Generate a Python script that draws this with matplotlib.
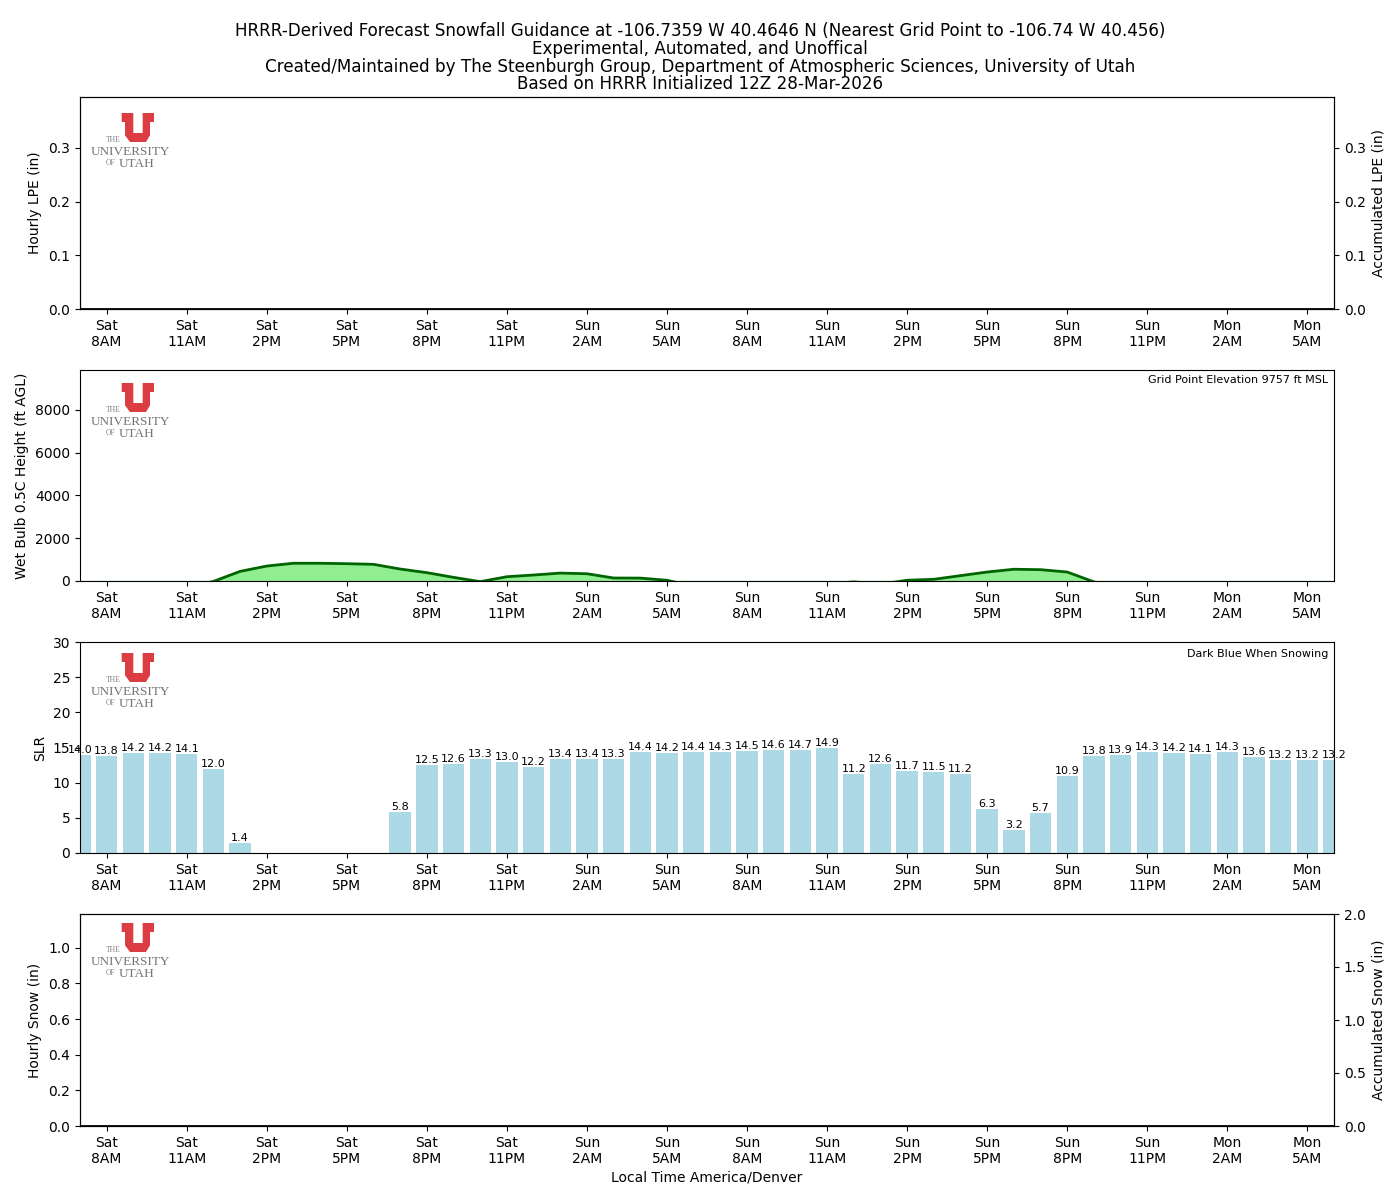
import matplotlib
matplotlib.use('Agg')
import matplotlib.pyplot as plt
from matplotlib.patches import Polygon
import numpy as np

# hours since Sat 8AM local, first value sits on the left edge of the axes
hours = np.arange(-1, 47)

tick_hours = np.arange(0, 46, 3)
tick_labels = ['Sat\n8AM', 'Sat\n11AM', 'Sat\n2PM', 'Sat\n5PM', 'Sat\n8PM', 'Sat\n11PM',
               'Sun\n2AM', 'Sun\n5AM', 'Sun\n8AM', 'Sun\n11AM', 'Sun\n2PM', 'Sun\n5PM',
               'Sun\n8PM', 'Sun\n11PM', 'Mon\n2AM', 'Mon\n5AM']

hourly_lpe = [0.0] * 48
accum_lpe = [0.0] * 48
hourly_snow = [0.0] * 48
accum_snow = [0.0] * 48

# values below zero run off the bottom of the panel
wetbulb = [-300, -300, -300, -300, -300, -20, 450, 700, 830, 830, 810, 780, 560, 390, 170, -30,
           200, 280, 370, 340, 140, 135, 35, -250, -300, -300, -300, -300, -150, -40, -150, 35, 80,
           250, 420, 550, 530, 420, -40, -300, -300, -300, -300, -300, -300, -300, -300, -300]

slr = [14.0, 13.8, 14.2, 14.2, 14.1, 12.0, 1.4, 0, 0, 0, 0, 0, 5.8, 12.5, 12.6, 13.3, 13.0, 12.2,
       13.4, 13.4, 13.3, 14.4, 14.2, 14.4, 14.3, 14.5, 14.6, 14.7, 14.9, 11.2, 12.6, 11.7, 11.5,
       11.2, 6.3, 3.2, 5.7, 10.9, 13.8, 13.9, 14.3, 14.2, 14.1, 14.3, 13.6, 13.2, 13.2, 13.2]

fig = plt.figure(figsize=(14, 12), dpi=100)
fig.suptitle('HRRR-Derived Forecast Snowfall Guidance at -106.7359 W 40.4646 N '
             '(Nearest Grid Point to -106.74 W 40.456)\n'
             'Experimental, Automated, and Unoffical\n'
             'Created/Maintained by The Steenburgh Group, Department of Atmospheric Sciences, University of Utah\n'
             'Based on HRRR Initialized 12Z 28-Mar-2026',
             fontsize=12.03, x=0.5, y=0.9813, va='top', linespacing=0.974)

W, H = 1400.0, 1200.0
left, right = 80, 1334
panels = [(97, 309), (370, 581), (642, 853), (914, 1126)]


def make_axes(top, bottom):
    ax = fig.add_axes([left / W, 1 - bottom / H, (right - left) / W, (bottom - top) / H])
    ax.set_xlim(-1, 46)
    ax.set_xticks(tick_hours)
    ax.set_xticklabels(tick_labels)
    return ax


def add_logo(i):
    # logo drawn by hand, steps down 270 px per panel
    top = 101 + 270 * i
    lg = fig.add_axes([85 / W, 1 - (top + 72) / H, 95 / W, 72 / H])
    lg.set_xlim(0, 95)
    lg.set_ylim(72, 0)
    lg.axis('off')
    lg.patch.set_alpha(0)
    u = [(36.7, 12), (48.3, 12), (48.3, 32), (57.7, 32), (57.7, 12), (69, 12), (69, 21), (65, 21),
         (65, 34.3), (61, 41), (45, 41), (40, 34.3), (40, 21), (36.7, 21)]
    lg.add_patch(Polygon(u, closed=True, fc='#dc3d42', ec='none'))
    lg.text(28.3, 39.3, 'THE', fontsize=5.5, family='Liberation Serif', color='#808080', ha='center', va='center')
    lg.text(45, 50.8, 'UNIVERSITY', fontsize=9.5, family='Liberation Serif', color='#757575', ha='center', va='center')
    lg.text(25.7, 62, 'OF', fontsize=5.5, family='Liberation Serif', color='#808080', ha='center', va='center')
    lg.text(52, 63.2, 'UTAH', fontsize=9.5, family='Liberation Serif', color='#757575', ha='center', va='center')


# LPE
ax1 = make_axes(*panels[0])
ax1.bar(hours, hourly_lpe, width=0.8, color='green')
ax1.plot(hours, accum_lpe, color='black', lw=2)
ax1.set_ylim(0, 0.395)
ax1.set_yticks([0, 0.1, 0.2, 0.3])
ax1.set_ylabel('Hourly LPE (in)', labelpad=4.3)
ax1r = ax1.twinx()
ax1r.set_ylim(0, 0.395)
ax1r.set_yticks([0, 0.1, 0.2, 0.3])
ax1r.set_ylabel('Accumulated LPE (in)')
add_logo(0)

# wet bulb height
ax2 = make_axes(*panels[1])
ax2.fill_between(hours, 0, wetbulb, color='lightgreen')
ax2.plot(hours, wetbulb, color='darkgreen', lw=2)
ax2.set_ylim(0, 9870)
ax2.set_yticks([0, 2000, 4000, 6000, 8000])
ax2.set_ylabel('Wet Bulb 0.5C Height (ft AGL)', labelpad=4.3)
ax2.text(0.995, 0.975, 'Grid Point Elevation 9757 ft MSL', transform=ax2.transAxes,
         fontsize=8, ha='right', va='top')
add_logo(1)

# snow to liquid ratio
ax3 = make_axes(*panels[2])
bars = ax3.bar(hours, slr, width=0.8, color='lightblue')
for h, v in zip(hours, slr):
    if v > 0:
        ax3.text(h, v, '%.1f' % v, fontsize=8, ha='center', va='bottom')
ax3.set_ylim(0, 30)
ax3.set_ylabel('SLR')
ax3.text(0.9955, 0.968, 'Dark Blue When Snowing', transform=ax3.transAxes,
         fontsize=8, ha='right', va='top')
add_logo(2)

# snow
ax4 = make_axes(*panels[3])
ax4.bar(hours, hourly_snow, width=0.8, color='blue')
ax4.plot(hours, accum_snow, color='black', lw=2)
ax4.set_ylim(0, 1.19)
ax4.set_yticks([0, 0.2, 0.4, 0.6, 0.8, 1.0])
ax4.set_ylabel('Hourly Snow (in)', labelpad=4.3)
ax4.set_xlabel('Local Time America/Denver', labelpad=3)
ax4r = ax4.twinx()
ax4r.set_ylim(0, 2)
ax4r.set_yticks([0, 0.5, 1.0, 1.5, 2.0])
ax4r.set_ylabel('Accumulated Snow (in)')
add_logo(3)

fig.savefig('out.png', dpi=100)
